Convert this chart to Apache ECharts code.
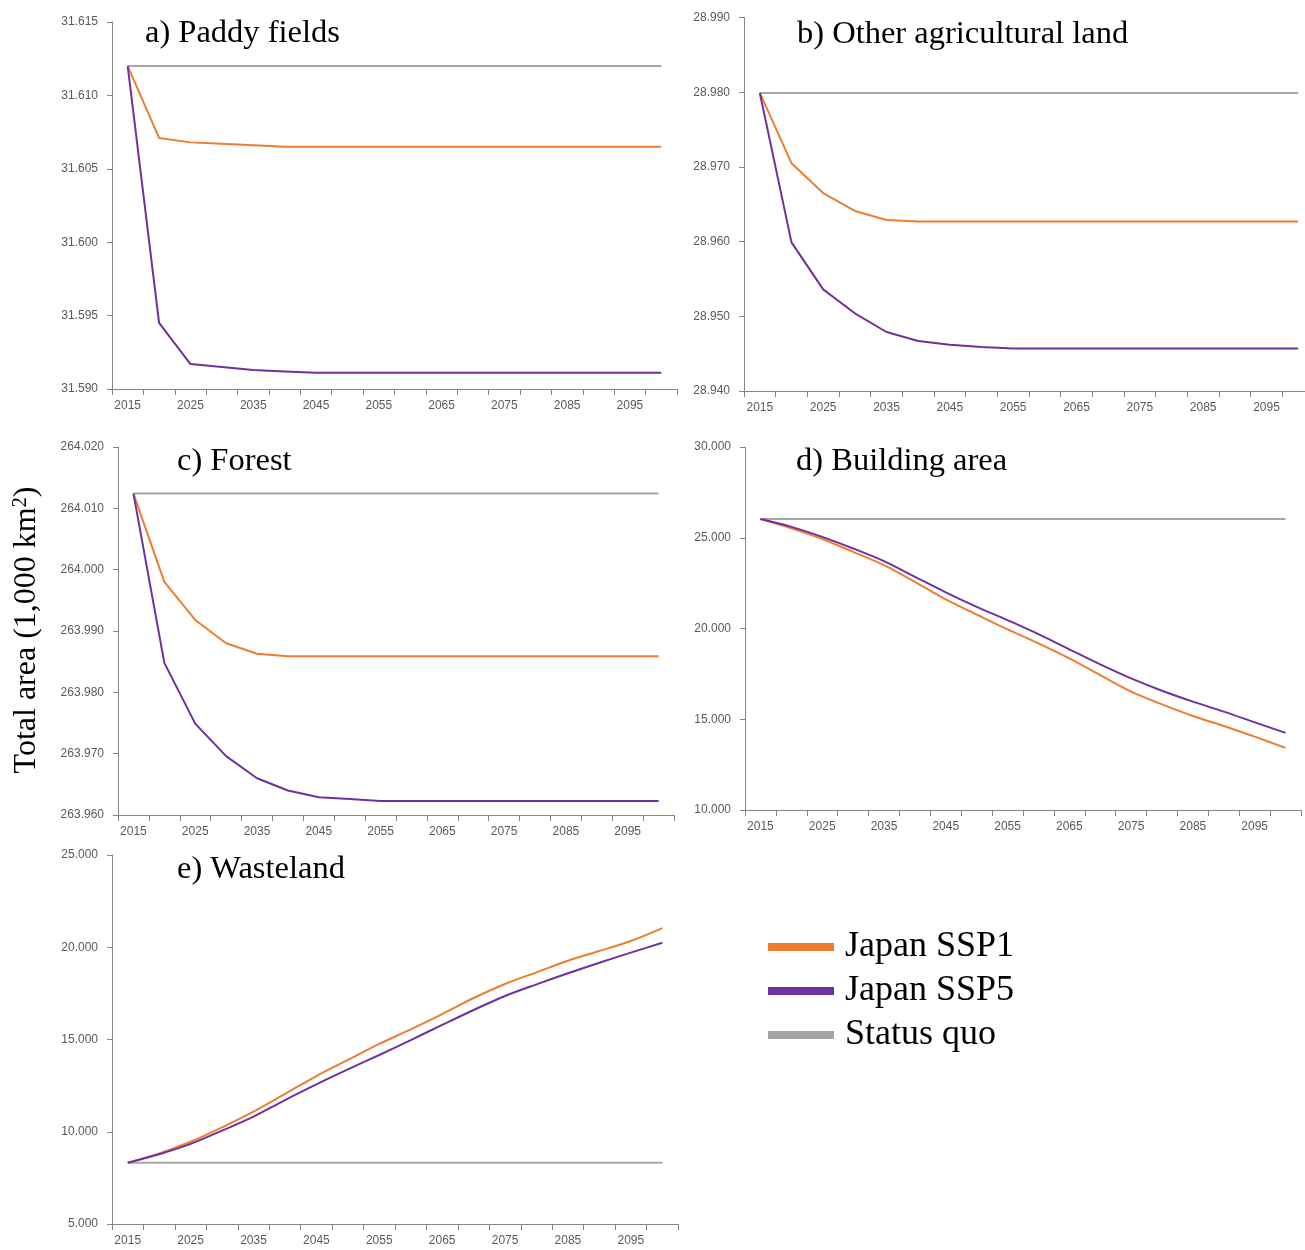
<!DOCTYPE html>
<html>
<head>
<meta charset="utf-8">
<script src="https://cdn.jsdelivr.net/npm/echarts@6/dist/echarts.min.js"></script>
<style>
html,body{margin:0;padding:0;background:#fff;overflow:hidden;}
#chart{width:1320px;height:1250px;}
</style>
</head>
<body>
<div id="chart"></div>
<script>
const years = ['2015','2020','2025','2030','2035','2040','2045','2050','2055','2060','2065','2070','2075','2080','2085','2090','2095','2100'];

// a) Paddy fields
const paddySSP1 = [31.6120,31.6071,31.6068,31.6067,31.6066,31.6065,31.6065,31.6065,31.6065,31.6065,31.6065,31.6065,31.6065,31.6065,31.6065,31.6065,31.6065,31.6065];
const paddySSP5 = [31.6120,31.5945,31.5917,31.5915,31.5913,31.5912,31.5911,31.5911,31.5911,31.5911,31.5911,31.5911,31.5911,31.5911,31.5911,31.5911,31.5911,31.5911];
const paddySQ   = [31.6120,31.6120,31.6120,31.6120,31.6120,31.6120,31.6120,31.6120,31.6120,31.6120,31.6120,31.6120,31.6120,31.6120,31.6120,31.6120,31.6120,31.6120];

// b) Other agricultural land
const otherSSP1 = [28.9799,28.9705,28.9665,28.9641,28.9629,28.9627,28.9627,28.9627,28.9627,28.9627,28.9627,28.9627,28.9627,28.9627,28.9627,28.9627,28.9627,28.9627];
const otherSSP5 = [28.9799,28.9599,28.9536,28.9504,28.9479,28.9467,28.9462,28.9459,28.9457,28.9457,28.9457,28.9457,28.9457,28.9457,28.9457,28.9457,28.9457,28.9457];
const otherSQ   = [28.9799,28.9799,28.9799,28.9799,28.9799,28.9799,28.9799,28.9799,28.9799,28.9799,28.9799,28.9799,28.9799,28.9799,28.9799,28.9799,28.9799,28.9799];

// c) Forest
const forestSSP1 = [264.0124,263.9980,263.9918,263.9880,263.9863,263.9859,263.9859,263.9859,263.9859,263.9859,263.9859,263.9859,263.9859,263.9859,263.9859,263.9859,263.9859,263.9859];
const forestSSP5 = [264.0124,263.9848,263.9749,263.9696,263.9660,263.9640,263.9629,263.9626,263.9623,263.9623,263.9623,263.9623,263.9623,263.9623,263.9623,263.9623,263.9623,263.9623];
const forestSQ   = [264.0124,264.0124,264.0124,264.0124,264.0124,264.0124,264.0124,264.0124,264.0124,264.0124,264.0124,264.0124,264.0124,264.0124,264.0124,264.0124,264.0124,264.0124];

// d) Building area
const buildSSP1 = [26.03,25.52,24.93,24.22,23.49,22.57,21.60,20.77,19.95,19.18,18.35,17.43,16.52,15.82,15.18,14.63,14.04,13.42];
const buildSSP5 = [26.03,25.60,25.05,24.41,23.71,22.85,21.99,21.19,20.46,19.69,18.85,18.02,17.25,16.57,15.97,15.42,14.83,14.25];
const buildSQ   = [26.03,26.03,26.03,26.03,26.03,26.03,26.03,26.03,26.03,26.03,26.03,26.03,26.03,26.03,26.03,26.03,26.03,26.03];

// e) Wasteland
const wasteSSP1 = [8.32,8.83,9.46,10.24,11.09,12.05,13.02,13.89,14.76,15.55,16.38,17.25,18.01,18.64,19.27,19.80,20.34,21.04];
const wasteSSP5 = [8.32,8.78,9.34,10.06,10.82,11.72,12.57,13.38,14.16,14.97,15.79,16.60,17.36,17.99,18.59,19.16,19.71,20.24];
const wasteSQ   = [8.32,8.32,8.32,8.32,8.32,8.32,8.32,8.32,8.32,8.32,8.32,8.32,8.32,8.32,8.32,8.32,8.32,8.32];

const panelTitles = ['a) Paddy fields','b) Other agricultural land','c) Forest','d) Building area','e) Wasteland'];
const yMins = [31.590, 28.940, 263.960, 10, 5];
const yMaxs = [31.615, 28.990, 264.020, 30, 25];
const yIntervals = [0.005, 0.01, 0.01, 5, 5];
const seriesNames = ['Japan SSP1','Japan SSP5','Status quo'];
const colors = ['#ED7D31','#7030A0','#A5A5A5'];

const panelData = [
  [paddySSP1, paddySSP5, paddySQ],
  [otherSSP1, otherSSP5, otherSQ],
  [forestSSP1, forestSSP5, forestSQ],
  [buildSSP1, buildSSP5, buildSQ],
  [wasteSSP1, wasteSSP5, wasteSQ]
];
const smoothFlags = [false,false,false,true,true];

const grids = [
  {left:112, top:22,  width:565, height:367},
  {left:744, top:17.5,width:570, height:373.5},
  {left:118, top:447, width:556, height:368},
  {left:745, top:447, width:556, height:363},
  {left:112, top:855, width:566, height:369}
];
const titlePos = [
  {left:145, top:17},
  {left:797, top:18},
  {left:177, top:445},
  {left:796, top:445},
  {left:177, top:853}
];

const axisColor = '#868686';
const labelFont = {color:'#595959', fontSize:12, fontFamily:'Liberation Sans, Arial, sans-serif'};

const chart = echarts.init(document.getElementById('chart'));
const option = {
  animation:false,
  backgroundColor:'#fff',
  color: colors,
  title: panelTitles.map((t,i)=>({
    text:t, left:titlePos[i].left, top:titlePos[i].top, padding:0,
    textStyle:{fontFamily:'Liberation Serif, Times New Roman, serif', fontSize:32.5, fontWeight:'normal', color:'#000'}
  })),
  legend:{
    orient:'vertical', left:768, top:929, padding:0,
    icon:'rect', itemWidth:66, itemHeight:8, itemGap:8,
    data: seriesNames,
    textStyle:{fontFamily:'Liberation Serif, Times New Roman, serif', fontSize:36, color:'#000', padding:[0,0,0,6]}
  },
  graphic:[{
    type:'text', x:27, y:630, rotation:Math.PI/2,
    style:{
      text:'Total area (1,000 km{sup|2})',
      font:'32px "Liberation Serif", "Times New Roman", serif',
      fill:'#000', align:'center', verticalAlign:'middle',
      rich:{sup:{fontSize:20, fontFamily:'Liberation Serif', verticalAlign:'top', fill:'#000'}}
    }
  }],
  grid: grids,
  xAxis: grids.map((g,i)=>({
    type:'category', gridIndex:i, data:years, boundaryGap:true,
    axisLine:{lineStyle:{color:axisColor, width:1}},
    axisTick:{show:true, interval:0, length:6, lineStyle:{color:axisColor}},
    axisLabel:Object.assign({interval:1, margin:11}, labelFont),
    splitLine:{show:false}
  })),
  yAxis: grids.map((g,i)=>({
    type:'value', gridIndex:i, min:yMins[i], max:yMaxs[i], interval:yIntervals[i],
    axisLine:{show:true, lineStyle:{color:axisColor, width:1}},
    axisTick:{show:true, length:5, lineStyle:{color:axisColor}},
    axisLabel:Object.assign({margin:14, formatter:v=>v.toFixed(3)}, labelFont),
    splitLine:{show:false}
  })),
  series: []
};
panelData.forEach((arrs,i)=>{
  [2,0,1].forEach(k=>{
    option.series.push({
      name:seriesNames[k], type:'line', xAxisIndex:i, yAxisIndex:i,
      data:arrs[k], symbol:'none', smooth:smoothFlags[i] ? 0.3 : false,
      lineStyle:{color:colors[k], width:2},
      itemStyle:{color:colors[k]}
    });
  });
});
chart.setOption(option);
</script>
</body>
</html>
